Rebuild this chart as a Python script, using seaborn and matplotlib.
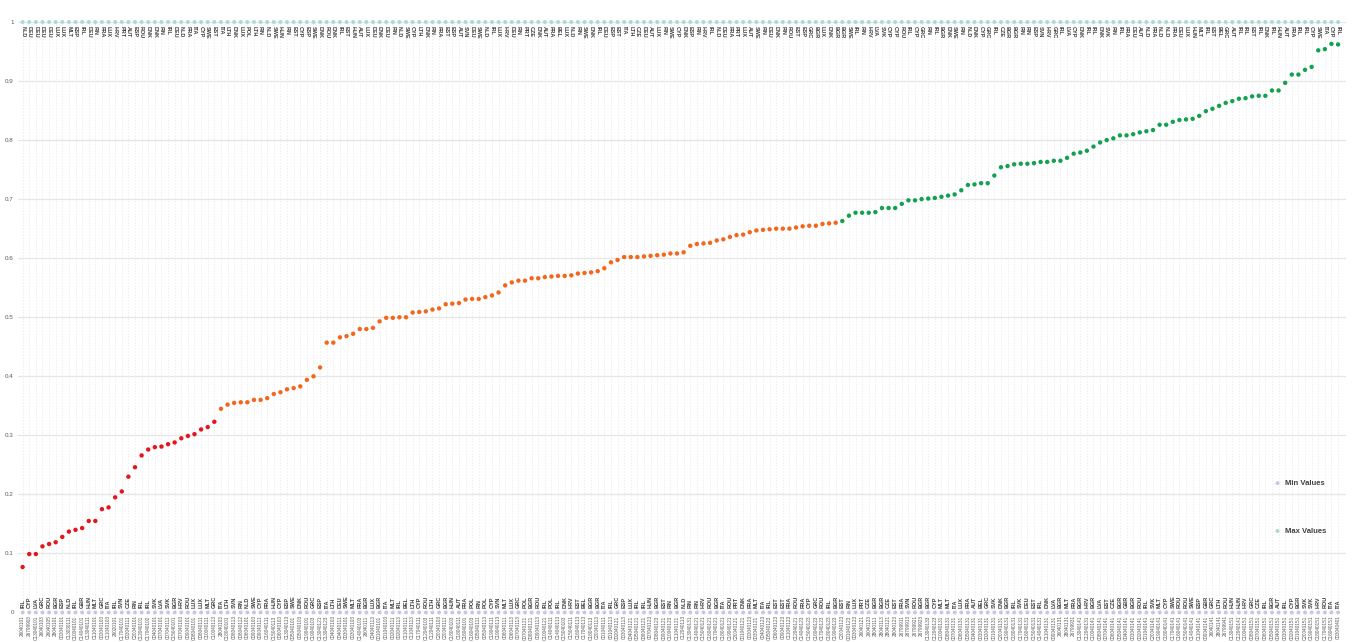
import pandas as pd
import seaborn as sns
import matplotlib.pyplot as plt

# Sorted values, split in the three colour bands
low_vals = [0.077, 0.099, 0.099, 0.112, 0.116, 0.119, 0.128, 0.137, 0.140, 0.143,
            0.155, 0.155, 0.175, 0.178, 0.195, 0.205, 0.230, 0.246, 0.266, 0.276,
            0.280, 0.281, 0.285, 0.288, 0.295, 0.299, 0.302, 0.310, 0.314, 0.323]
mid_vals = [0.345, 0.352, 0.355, 0.356, 0.356, 0.360, 0.360, 0.363, 0.370, 0.373,
            0.378, 0.380, 0.383, 0.394, 0.400, 0.415, 0.457, 0.457, 0.466, 0.468,
            0.472, 0.480, 0.480, 0.482, 0.493, 0.499, 0.499, 0.500, 0.500, 0.508,
            0.509, 0.510, 0.513, 0.515, 0.522, 0.523, 0.524, 0.530, 0.531, 0.531,
            0.534, 0.537, 0.542, 0.554, 0.559, 0.562, 0.562, 0.566, 0.566, 0.568,
            0.569, 0.570, 0.570, 0.571, 0.574, 0.575, 0.576, 0.578, 0.583, 0.593,
            0.597, 0.602, 0.602, 0.602, 0.603, 0.604, 0.605, 0.606, 0.608, 0.608,
            0.610, 0.621, 0.624, 0.625, 0.626, 0.630, 0.632, 0.636, 0.639, 0.640,
            0.644, 0.647, 0.648, 0.649, 0.650, 0.650, 0.650, 0.652, 0.654, 0.655,
            0.655, 0.658, 0.659, 0.660]
high_vals = [0.663, 0.672, 0.677, 0.677, 0.677, 0.678, 0.685, 0.685, 0.685, 0.692,
             0.698, 0.698, 0.700, 0.701, 0.702, 0.704, 0.706, 0.708, 0.715, 0.724,
             0.725, 0.727, 0.727, 0.740, 0.754, 0.756, 0.759, 0.760, 0.760, 0.761,
             0.763, 0.763, 0.765, 0.765, 0.770, 0.777, 0.779, 0.782, 0.789, 0.796,
             0.800, 0.803, 0.808, 0.808, 0.810, 0.813, 0.815, 0.817, 0.826, 0.826,
             0.831, 0.834, 0.835, 0.836, 0.841, 0.849, 0.853, 0.858, 0.863, 0.866,
             0.870, 0.871, 0.874, 0.875, 0.875, 0.884, 0.884, 0.897, 0.911, 0.911,
             0.919, 0.924, 0.952, 0.954, 0.963, 0.962]

min_value = 0
max_value = 1

# country of each point (bottom labels)
countries = [
    'IRL', 'CYP', 'LVA', 'GRC', 'ROU', 'BGR', 'ESP', 'NLD', 'IRL', 'GBR',
    'HUN', 'MLT', 'GRC', 'ITA', 'IRL', 'SVN', 'CZE', 'FIN', 'IRL', 'IRL',
    'SVK', 'LVA', 'SVK', 'BGR', 'HRV', 'ROU', 'LUX', 'LUX', 'MLT', 'GRC',
    'ITA', 'LTH', 'SVN', 'FIN', 'NLD', 'SWE', 'CYP', 'FRA', 'HUN', 'CYP',
    'ESP', 'SWE', 'DNK', 'ROU', 'GRC', 'ESP', 'ITA', 'LTH', 'DEU', 'SWE',
    'MLT', 'FRA', 'BGR', 'LUX', 'BGR', 'ITA', 'MLT', 'IRL', 'BEL', 'LTH',
    'CYP', 'ROU', 'LTH', 'GRC', 'BGR', 'HUN', 'AUT', 'FRA', 'POL', 'FIN',
    'POL', 'CYP', 'SVN', 'MLT', 'LUX', 'GRC', 'POL', 'BGR', 'ROU', 'IRL',
    'POL', 'IRL', 'DNK', 'HRV', 'EST', 'BEL', 'BGR', 'BGR', 'ITA', 'IRL',
    'GRC', 'ESP', 'LUX', 'IRL', 'IRL', 'HUN', 'BGR', 'EST', 'FIN', 'BGR',
    'NLD', 'FIN', 'FIN', 'HRV', 'ROU', 'BGR', 'ITA', 'ROU', 'PRT', 'DNK',
    'FRA', 'MLT', 'ITA', 'IRL', 'EST', 'EST', 'FRA', 'ROU', 'FRA', 'CYP',
    'GRC', 'ROU', 'IRL', 'BGR', 'EST', 'FIN', 'LUX', 'PRT', 'CZE', 'BGR',
    'BGR', 'CZE', 'EST', 'FRA', 'SVN', 'ROU', 'BGR', 'BGR', 'CYP', 'MLT',
    'MLT', 'ITA', 'LUX', 'FRA', 'AUT', 'BEL', 'GRC', 'SVK', 'DNK', 'BGR',
    'IRL', 'SVK', 'DEU', 'EST', 'IRL', 'DNK', 'LVA', 'BGR', 'MLT', 'FRA',
    'BGR', 'HRV', 'BGR', 'LVA', 'EST', 'CZE', 'BGR', 'GBR', 'BGR', 'ROU',
    'IRL', 'SVK', 'MLT', 'CYP', 'SWE', 'ROU', 'ROU', 'SWE', 'ESP', 'GBR',
    'GRC', 'LTH', 'ROU', 'HUN', 'HUN', 'HRV', 'GRC', 'CZE', 'IRL', 'BGR',
    'AUT', 'IRL', 'CYP', 'BGR', 'SVK', 'SVK', 'HRV', 'ROU', 'ITA', 'ITA',
]

# item codes under the axis
codes = [
    '26040101', '26799903', 'C13040101', '26040103', '26040105', '28040101', 'C02040101', 'C13030111', 'C10040101', 'C14040101',
    'C13040111', 'C11040101', 'C02040103', 'C11040103', '26020101', 'C17040101', 'C03040111', 'C20040101', 'C12040101', 'C17040102',
    'C04040101', 'C07040101', 'C07040111', 'C15040101', 'C07040103', 'C09040101', 'C08040101', 'C08040111', 'C10040111', 'C10040113',
    '28040103', 'C18040101', 'C08040113', 'C08040112', 'C06040101', 'C09040103', 'C09040111', 'C16040111', 'C15040113', 'C06040103',
    'C13040113', 'C05040101', 'C05040103', 'C19040101', 'C19040103', 'C13040121', 'C13040123', 'C04040103', 'C04040111', 'C03040101',
    'C03040103', 'C14040103', '26040111', 'C04040113', 'C01040101', 'C01040103', 'C02040111', 'C02040113', 'C11040111', 'C11040113',
    'C17040111', 'C12040103', 'C12040111', 'C20040103', 'C20040111', 'C18040103', 'C18040111', 'C16040101', 'C16040103', 'C05040111',
    'C05040113', 'C19040111', 'C19040113', 'C06040111', 'C06040113', 'C07040113', 'C07040121', 'C08040121', 'C09040113', 'C10040121',
    'C14040111', 'C14040113', 'C15040103', 'C15040111', 'C16040113', 'C17040113', 'C18040113', 'C20040113', 'C01040111', 'C01040113',
    'C02040121', 'C03040113', 'C04040121', 'C05040121', 'C06040121', 'C07040123', 'C08040123', 'C09040121', 'C10040123', 'C11040121',
    'C12040113', 'C13040131', 'C14040121', 'C15040121', 'C16040121', 'C17040121', 'C18040121', 'C19040121', 'C20040121', 'C01040121',
    'C02040123', 'C03040121', 'C04040123', 'C05040123', 'C06040123', 'C09040123', 'C11040123', 'C12040121', 'C14040123', 'C15040123',
    'C16040123', 'C17040123', 'C18040123', 'C19040123', 'C20040123', 'C01040123', 'C03040123', '26040121', '26040123', '28040111',
    '28040113', '28040121', '28040123', '26799911', '26799913', '26799921', '26799923', 'C13040133', 'C12040123', 'C10040131',
    'C08040131', 'C07040131', 'C06040131', 'C05040131', 'C04040131', 'C03040131', 'C02040131', 'C01040131', 'C20040131', 'C19040131',
    'C18040131', 'C17040131', 'C16040131', 'C15040131', 'C14040131', 'C11040131', 'C09040131', '26040131', '28040131', '26799931',
    'C13040141', 'C12040131', 'C10040141', 'C08040141', 'C07040141', 'C06040141', 'C05040141', 'C04040141', 'C03040141', 'C02040141',
    'C01040141', 'C20040141', 'C19040141', 'C18040141', 'C17040141', 'C16040141', 'C15040141', 'C14040141', 'C11040141', 'C09040141',
    '26040141', '28040141', '26799941', 'C13040151', 'C12040141', 'C10040151', 'C08040151', 'C07040151', 'C06040151', 'C05040151',
    'C04040151', 'C03040151', 'C02040151', 'C01040151', 'C20040151', 'C19040151', 'C18040151', 'C17040151', 'C16040151', 'C03040401',
]

# country holding the max value (top labels)
top_countries = [
    'NLD', 'DEU', 'DEU', 'DEU', 'DEU', 'LUX', 'LUX', 'MLT', 'ESP', 'IRL',
    'DEU', 'FIN', 'FRA', 'LUX', 'HRV', 'PRT', 'AUT', 'ESP', 'ROU', 'DNK',
    'DNK', 'FIN', 'IRL', 'DEU', 'NLD', 'FRA', 'ITA', 'CYP', 'SWE', 'EST',
    'ITA', 'LTH', 'DNK', 'LUX', 'POL', 'LTH', 'FIN', 'NLD', 'SWE', 'HUN',
    'FIN', 'EST', 'CYP', 'ESP', 'SWE', 'DNK', 'ROU', 'DNK', 'IRL', 'EST',
    'HUN', 'AUT', 'LUX', 'DEU', 'DNK', 'DEU', 'FIN', 'NLD', 'SWE', 'CYP',
    'LTH', 'DNK', 'FIN', 'FRA', 'EST', 'ESP', 'AUT', 'SVN', 'DEU', 'SWE',
    'NLD', 'IRL', 'LUX', 'HRV', 'DEU', 'FIN', 'PRT', 'CZE', 'DNK', 'AUT',
    'FRA', 'BEL', 'LUX', 'NLD', 'FIN', 'SWE', 'DNK', 'IRL', 'DEU', 'ESP',
    'EST', 'ITA', 'LTH', 'CZE', 'DEU', 'AUT', 'LUX', 'FIN', 'SWE', 'CYP',
    'DNK', 'ESP', 'FIN', 'HRV', 'IRL', 'NLD', 'DEU', 'FRA', 'PRT', 'LUX',
    'AUT', 'SWE', 'FIN', 'DEU', 'DNK', 'FIN', 'ROU', 'EST', 'ESP', 'GRC',
    'BGR', 'LUX', 'DNK', 'BGR', 'BGR', 'SWE', 'IRL', 'FIN', 'HRV', 'LVA',
    'SVK', 'CYP', 'CYP', 'ROU', 'IRL', 'CYP', 'GRC', 'FIN', 'IRL', 'BGR',
    'DNK', 'SWE', 'FIN', 'NLD', 'DNK', 'CYP', 'GRC', 'IRL', 'CZE', 'BGR',
    'BGR', 'FIN', 'FIN', 'ESP', 'SVN', 'HRV', 'GRC', 'IRL', 'LVA', 'CYP',
    'DNK', 'IRL', 'IRL', 'DNK', 'SVK', 'FIN', 'IRL', 'FRA', 'DEU', 'AUT',
    'NLD', 'FRA', 'NLD', 'NLD', 'FRA', 'DEU', 'LUX', 'HUN', 'MLT', 'IRL',
    'EST', 'BEL', 'GRC', 'AUT', 'IRL', 'IRL', 'EST', 'IRL', 'DNK', 'IRL',
    'HUN', 'AUT', 'FRA', 'IRL', 'IRL', 'CYP', 'SWE', 'ITA', 'CYP', 'IRL',
]

y_ticks = [0, 0.1, 0.2, 0.3, 0.4, 0.5, 0.6, 0.7, 0.8, 0.9, 1]

values = low_vals + mid_vals + high_vals
band = ['low'] * len(low_vals) + ['mid'] * len(mid_vals) + ['high'] * len(high_vals)
n = len(values)

df = pd.DataFrame({
    'pos': range(n),
    'value': values,
    'band': band,
    'country': countries,
    'top': top_countries,
    'code': codes,
})
df['min'] = min_value
df['max'] = max_value

sns.set_style('white')
plt.rcParams['font.family'] = ['Liberation Sans', 'DejaVu Sans']

W, H = 1352, 642
fig = plt.figure(figsize=(W / 100, H / 100), dpi=100)
ax = fig.add_axes([18 / W, 1 - 612.5 / H, (1346 - 18) / W, (612.5 - 22) / H])

# grid: solid horizontal, dotted vertical at each point
ax.set_xticks(df['pos'])
ax.set_yticks(y_ticks)
ax.set_yticklabels([f'{t:g}' for t in y_ticks])
ax.yaxis.grid(True, color='#e6e6e6', lw=0.9)
ax.xaxis.grid(True, color='#e0e0e0', lw=0.6, ls=(0, (1.2, 2.4)))
ax.set_axisbelow(True)
ax.tick_params(axis='x', length=0, labelbottom=False)
ax.tick_params(axis='y', length=0, pad=3, labelsize=4.5, colors='#595959')

palette = {'low': '#e8141b', 'mid': '#f4661b', 'high': '#12a150'}
sns.scatterplot(data=df, x='pos', y='value', hue='band', palette=palette,
                s=10, edgecolor='none', legend=False, ax=ax, clip_on=False, zorder=3)
sns.scatterplot(data=df, x='pos', y='min', color='#c9c6e3', s=8, edgecolor='none',
                label='Min Values', ax=ax, clip_on=False, zorder=3)
sns.scatterplot(data=df, x='pos', y='max', color='#a9d9d8', s=8, edgecolor='none',
                label='Max Values', ax=ax, clip_on=False, zorder=3)

# point labels
for row in df.itertuples():
    ax.annotate(row.top, (row.pos, row.max), xytext=(0, -3), textcoords='offset points',
                rotation=-90, ha='center', va='top', fontsize=4, weight='bold',
                color='#404040', annotation_clip=False)
    ax.annotate(row.country, (row.pos, row.min), xytext=(0, 3), textcoords='offset points',
                rotation=90, ha='center', va='bottom', fontsize=4, weight='bold',
                color='#404040', annotation_clip=False)
    ax.annotate(row.code, (row.pos, row.min), xytext=(0, -2), textcoords='offset points',
                rotation=90, ha='center', va='top', fontsize=3.4, color='#595959',
                annotation_clip=False)

ax.set_xlim(-0.7, n - 1 + 1.2)
ax.set_ylim(0, 1)
ax.set_xlabel('')
ax.set_ylabel('')
sns.despine(ax=ax, left=True, bottom=True)

ax.legend(loc='upper left', bbox_to_anchor=(1266 / W, 1 - 476 / H), bbox_transform=fig.transFigure,
          frameon=False, labelspacing=5.3, handletextpad=0.05, borderpad=0,
          prop={'size': 5.5, 'weight': 'bold'}, labelcolor='#404040', markerscale=1.0)

fig.savefig('out.png', dpi=100)
